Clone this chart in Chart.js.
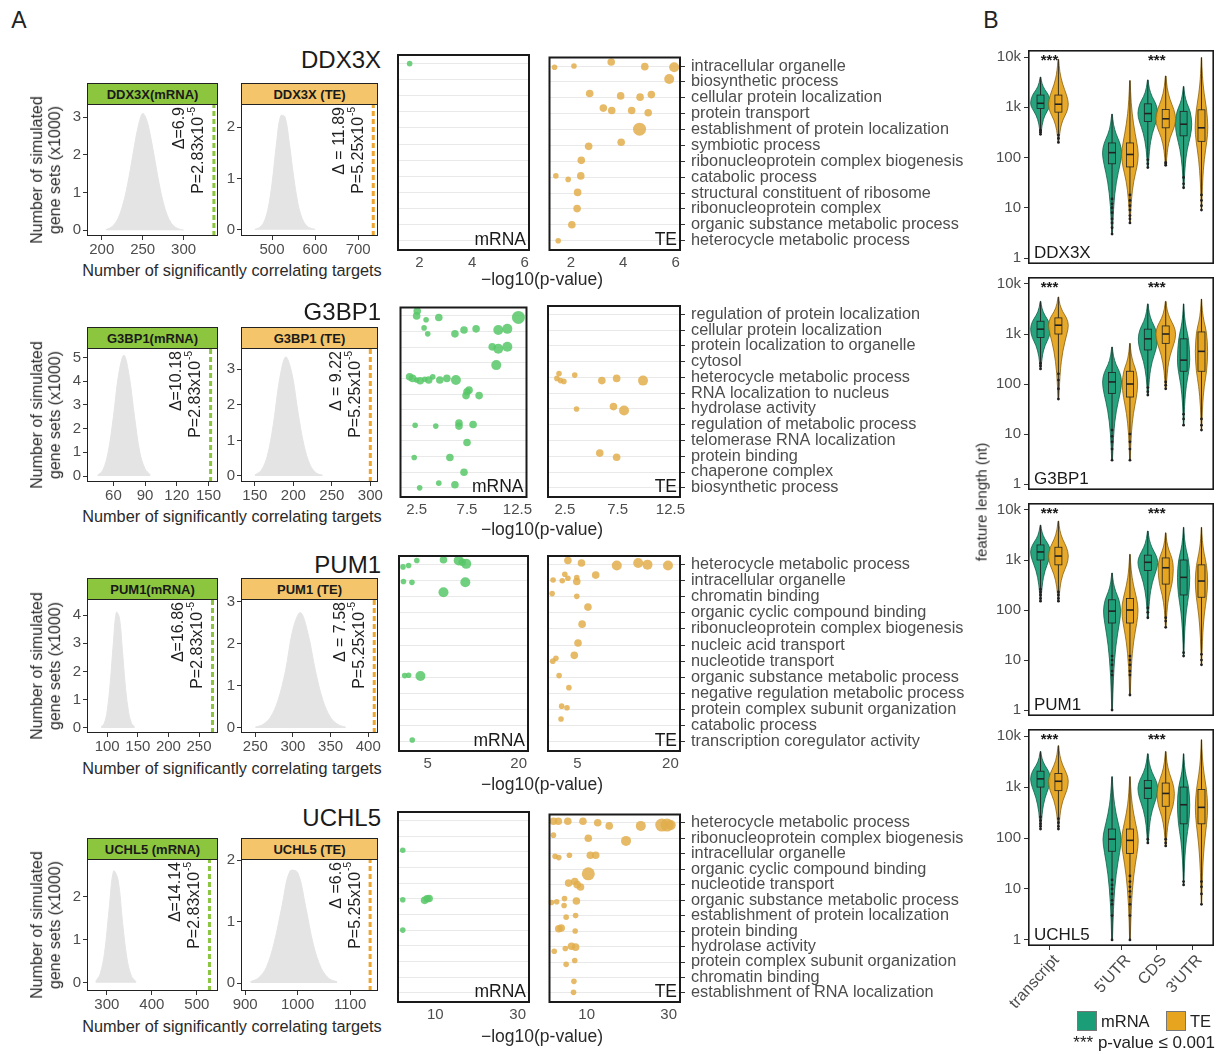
<!DOCTYPE html>
<html>
<head>
<meta charset="utf-8">
<script src="https://cdn.jsdelivr.net/npm/chart.js@4.4.0/dist/chart.umd.min.js"></script>
<style>
  body { margin: 0; background: #fff; width: 1224px; height: 1054px; position: relative; overflow: hidden;
         font-family: "Liberation Sans", Arial, sans-serif; color: #222; }
  canvas { position: absolute; }
  .t { position: absolute; white-space: nowrap; line-height: 1.12; }
  .strip { position: absolute; box-sizing: border-box; border: 1px solid #222; font-weight: bold; font-size: 13px;
           display: flex; align-items: center; justify-content: center; color: #1a1a1a; }
</style>
</head>
<body>
<script>
// ---------- data ----------
const GENES = ['DDX3X', 'G3BP1', 'PUM1', 'UCHL5'];

// simulated null distributions (x = number of targets, y = gene sets x1000)
const histBinsMrna = [
  [205, 210, 215, 220, 225, 230, 235, 240, 245, 250, 255, 260, 265, 270, 275, 280, 285, 290, 295, 300],
  [45, 50, 55, 60, 65, 70, 75, 80, 85, 90, 95],
  [90, 95, 100, 105, 110, 115, 120, 125, 130, 135, 140, 145],
  [275, 285, 295, 305, 315, 325, 335, 345, 355, 365]
];
const histSetsMrna = [
  [0.02, 0.06, 0.15, 0.32, 0.62, 1.05, 1.62, 2.25, 2.8, 3.1, 2.92, 2.45, 1.85, 1.25, 0.75, 0.4, 0.19, 0.08, 0.03, 0.01],
  [0.03, 0.25, 1.0, 2.5, 4.3, 5.1, 4.2, 2.5, 1.0, 0.3, 0.05],
  [0.03, 0.15, 0.6, 1.6, 3.0, 4.1, 3.9, 2.7, 1.4, 0.55, 0.15, 0.03],
  [0.03, 0.2, 0.7, 1.7, 2.6, 2.4, 1.4, 0.55, 0.15, 0.03]
];
const histBinsTe = [
  [460, 470, 480, 490, 500, 510, 520, 530, 540, 550, 560, 570, 580, 590, 600],
  [150, 158, 166, 174, 182, 190, 198, 206, 214, 222, 230, 238],
  [250, 260, 270, 280, 290, 300, 310, 320, 330, 340, 350, 360, 370],
  [910, 925, 940, 955, 970, 985, 1000, 1015, 1030, 1045, 1060, 1075]
];
const histSetsTe = [
  [0.01, 0.04, 0.13, 0.38, 0.9, 1.65, 2.22, 2.2, 1.7, 1.05, 0.52, 0.22, 0.08, 0.03, 0.01],
  [0.03, 0.15, 0.55, 1.45, 2.7, 3.35, 2.9, 1.8, 0.85, 0.3, 0.08, 0.02],
  [0.02, 0.08, 0.25, 0.65, 1.35, 2.35, 2.75, 2.25, 1.35, 0.65, 0.25, 0.08, 0.02],
  [0.02, 0.08, 0.25, 0.65, 1.25, 1.82, 1.8, 1.25, 0.62, 0.24, 0.07, 0.02]
];
const observedMrna = [337, 152, 272, 528];
const observedTe = [735, 300, 408, 1138];
const deltaMrna = ['\u0394=6.9', '\u0394=10.18', '\u0394=16.86', '\u0394=14.14'];
const deltaTe = ['\u0394 = 11.89', '\u0394 = 9.22', '\u0394 = 7.58', '\u0394 =6.6'];
const pMrna = 'P=2.83x10';
const pTe = 'P=5.25x10';
const pExp = '-5';

const histTicksMrna = [[200, 250, 300], [60, 90, 120, 150], [100, 150, 200, 250], [300, 400, 500]];
const histTicksTe = [[500, 600, 700], [150, 200, 250, 300], [250, 300, 350, 400], [900, 1000, 1100]];
const histYTicksMrna = [[0, 1, 2, 3], [0, 1, 2, 3, 4, 5], [0, 1, 2, 3, 4], [0, 1, 2]];
const histYTicksTe = [[0, 1, 2], [0, 1, 2, 3], [0, 1, 2, 3], [0, 1, 2]];

// GO terms (top to bottom)
const TERMS = [
  ['intracellular organelle', 'biosynthetic process', 'cellular protein localization', 'protein transport',
   'establishment of protein localization', 'symbiotic process', 'ribonucleoprotein complex biogenesis',
   'catabolic process', 'structural constituent of ribosome', 'ribonucleoprotein complex',
   'organic substance metabolic process', 'heterocycle metabolic process'],
  ['regulation of protein localization', 'cellular protein localization', 'protein localization to organelle',
   'cytosol', 'heterocycle metabolic process', 'RNA localization to nucleus', 'hydrolase activity',
   'regulation of metabolic process', 'telomerase RNA localization', 'protein binding', 'chaperone complex',
   'biosynthetic process'],
  ['heterocycle metabolic process', 'intracellular organelle', 'chromatin binding',
   'organic cyclic compound binding', 'ribonucleoprotein complex biogenesis', 'nucleic acid transport',
   'nucleotide transport', 'organic substance metabolic process', 'negative regulation metabolic process',
   'protein complex subunit organization', 'catabolic process', 'transcription coregulator activity'],
  ['heterocycle metabolic process', 'ribonucleoprotein complex biogenesis', 'intracellular organelle',
   'organic cyclic compound binding', 'nucleotide transport', 'organic substance metabolic process',
   'establishment of protein localization', 'protein binding', 'hydrolase activity',
   'protein complex subunit organization', 'chromatin binding', 'establishment of RNA localization']
];

// enrichment dots: [-log10(p), term position, size class]
const dotsMrna = [
  [[1.63, 0, 1]],
  [[2.56, -0.31, 2], [2.5, 0, 2], [3.44, 0.25, 1], [4.7, 0.1, 2], [12.6, 0.1, 4],
   [3.24, 0.77, 1], [3.6, 1.15, 1], [6.3, 1.15, 2], [7.2, 0.9, 2], [8.4, 0.83, 2], [10.6, 0.9, 3], [11.5, 0.83, 3],
   [10.0, 1.98, 2], [10.6, 2.1, 3], [11.5, 1.98, 3], [10.4, 3.15, 3],
   [1.8, 3.9, 2], [2.1, 4.0, 2], [2.5, 4.1, 1], [2.85, 4.15, 2], [3.3, 4.05, 1], [3.7, 4.1, 2], [4.1, 3.9, 1],
   [4.8, 4.1, 2], [5.5, 4.0, 2], [6.4, 4.1, 3],
   [7.5, 4.85, 2], [7.7, 4.75, 2], [7.4, 5.1, 2], [8.7, 5.1, 2],
   [2.35, 7.0, 1], [4.4, 7.05, 1], [6.7, 6.85, 2], [6.7, 7.05, 2], [8.1, 6.95, 2],
   [7.5, 8.1, 2], [2.26, 9.06, 1], [5.8, 9.06, 2], [7.2, 10.0, 2],
   [2.8, 11.0, 1], [4.7, 10.7, 1], [6.3, 10.8, 2]],
  [[0.93, 0.14, 1], [1.85, 0.05, 1], [3.2, -0.26, 1], [7.6, -0.3, 2], [10.1, -0.26, 3], [10.7, -0.15, 2], [11.35, -0.05, 3],
   [1.0, 1.05, 1], [2.4, 1.1, 1], [11.2, 1.1, 3], [7.6, 1.72, 3],
   [1.2, 6.9, 1], [1.85, 6.88, 1], [3.8, 6.92, 3], [2.45, 10.9, 1]],
  [[2.1, 1.9, 1], [2.1, 5.06, 1], [7.4, 5.1, 2], [8.0, 5.0, 2], [8.5, 4.98, 2], [2.1, 7.0, 1]]
];
const dotsTe = [
  [[1.38, 0.08, 1], [2.12, 0, 1], [3.54, -0.25, 2], [4.82, 0.04, 2], [5.94, 0.08, 3], [5.75, 0.82, 3],
   [2.72, 1.73, 2], [3.9, 1.88, 2], [4.64, 1.96, 2], [5.07, 1.8, 2],
   [3.24, 2.65, 2], [3.56, 2.8, 2], [4.32, 2.8, 2], [4.95, 2.94, 2], [4.62, 3.98, 4],
   [3.92, 4.8, 2], [2.68, 5.06, 2], [2.4, 5.94, 2],
   [1.43, 6.92, 1], [1.9, 7.14, 1], [2.38, 6.92, 2], [2.26, 7.96, 2], [2.24, 8.98, 2], [2.04, 10.0, 2], [1.52, 11.0, 1]],
  [[1.94, 3.75, 1], [1.74, 4.06, 1], [2.08, 4.2, 1], [2.4, 4.25, 1], [3.43, 3.85, 1], [6.0, 4.2, 2], [7.4, 4.06, 2], [9.9, 4.2, 3],
   [3.6, 6.0, 1], [7.1, 5.85, 2], [8.1, 6.1, 3], [5.8, 8.8, 2], [7.4, 9.06, 2]],
  [[3.47, -0.26, 2], [5.66, -0.1, 2], [11.35, 0.05, 3], [14.8, -0.1, 3], [16.3, 0, 3], [19.6, 0.05, 3],
   [1.08, 0.95, 1], [2.56, 1.0, 1], [2.97, 0.6, 1], [3.47, 0.85, 1], [4.9, 1.05, 2], [4.9, 0.8, 1], [7.95, 0.65, 2],
   [0.93, 1.8, 1], [4.9, 1.97, 1], [6.7, 2.64, 2], [5.76, 3.7, 2], [5.1, 4.87, 2], [4.5, 5.64, 2],
   [1.54, 5.82, 1], [1.03, 6.0, 1], [2.05, 6.9, 1], [3.63, 7.65, 1], [2.46, 8.8, 1], [3.32, 8.9, 1], [2.36, 9.6, 1]],
  [[1.9, -0.1, 2], [3.1, -0.1, 2], [5.4, -0.1, 2], [9.1, -0.1, 2], [12.7, 0, 2], [15.5, 0.2, 2], [23.2, 0.2, 3],
   [28.3, 0.15, 4], [29.6, 0.15, 4], [30.5, 0.15, 3],
   [1.9, 0.8, 1], [10.4, 1.0, 2], [19.6, 1.17, 3],
   [2.3, 2.17, 1], [3.2, 2.25, 1], [5.8, 2.1, 1], [10.9, 2.1, 2], [12.2, 2.1, 2], [10.4, 3.3, 4],
   [5.6, 3.9, 2], [7.1, 3.8, 2], [8.5, 4.15, 2], [7.7, 4.0, 2],
   [1.4, 5.15, 1], [2.7, 5.1, 1], [4.6, 4.9, 1], [4.5, 5.35, 1], [7.5, 5.06, 2],
   [5.0, 6.1, 1], [7.3, 6.0, 1], [3.2, 6.85, 2], [3.8, 6.8, 2], [7.2, 7.0, 1],
   [2.1, 8.3, 1], [4.8, 8.13, 1], [6.3, 7.98, 2], [7.3, 8.04, 2],
   [5.0, 9.15, 1], [7.1, 8.9, 1], [6.9, 10.25, 1], [6.8, 10.96, 1]]
];
const dotTicks = [[2, 4, 6], [2.5, 7.5, 12.5], [5, 20], [10, 30]];

// feature lengths: [min, q1, median, q3, max] for transcript, 5'UTR, CDS, 3'UTR
const FEATURES = ['transcript', "5'UTR", 'CDS', "3'UTR"];
const violinMrna = [
  [[290, 950, 1200, 1750, 4000], [3, 75, 125, 195, 730], [63, 520, 750, 1170, 3500], [25, 270, 460, 830, 2600]],
  [[200, 850, 1250, 1800, 4500], [3, 65, 110, 170, 550], [60, 480, 800, 1250, 4000], [15, 180, 300, 800, 4000]],
  [[150, 1000, 1450, 2000, 5000], [1, 55, 95, 160, 550], [70, 620, 900, 1250, 3800], [12, 200, 450, 1000, 4500]],
  [[150, 1000, 1450, 2050, 5000], [1, 55, 95, 150, 1600], [80, 600, 950, 1350, 4500], [12, 190, 450, 1000, 4500]]
];
const violinTe = [
  [[200, 800, 1150, 1750, 9000], [5, 65, 115, 195, 3400], [70, 390, 590, 900, 4200], [9, 210, 390, 890, 9800]],
  [[50, 1000, 1500, 2100, 5500], [3, 55, 100, 180, 650], [80, 650, 1000, 1450, 4500], [12, 180, 450, 1100, 5000]],
  [[150, 800, 1200, 1800, 6000], [2, 55, 100, 170, 1300], [45, 330, 700, 1100, 3500], [8, 180, 380, 800, 4500]],
  [[150, 850, 1300, 1850, 6500], [1, 50, 90, 150, 1600], [70, 420, 750, 1200, 5000], [5, 190, 400, 900, 8500]]
];
const outliersMrna = [
  [[290, 320, 350], [3, 4, 5, 6, 8, 10, 12, 15], [63, 75, 90], [25, 30, 40]],
  [[200, 230, 260], [3, 5, 7, 9, 12], [60, 70, 85], [15, 20, 25]],
  [[150, 170, 200, 230, 260], [1, 5, 6, 8, 10, 12], [70, 90, 110], [12, 14]],
  [[150, 170, 190, 220, 260], [1, 3, 5, 6, 8, 10, 12, 15], [80, 95], [12, 14]]
];
const outliersTe = [
  [[200, 240, 280], [5, 6, 7, 9, 11, 14, 18], [70, 75, 80], [9, 11, 14, 18]],
  [[50, 80, 120, 160], [3, 5, 7, 10], [80, 95, 110], [12, 15, 20]],
  [[150, 170, 200, 230], [2, 5, 6, 8, 10, 12], [45, 60, 70], [8, 10, 13]],
  [[150, 170, 200, 240], [1, 3, 5, 7, 9, 11, 14, 18], [70, 80, 95], [5, 8, 11, 14]]
];
const SIG_FEATURES = [0, 2];

// ---------- layout ----------
const FONT = '"Liberation Sans", Arial, sans-serif';
Chart.defaults.font.family = FONT;
const STRIP_TOP = [83, 327, 578, 838];
const HIST_TOP = [104, 348, 599, 859];
const HIST_BOTTOM = [236, 482, 733, 991];
const HIST_X_M = [87, 218], HIST_X_T = [241, 378];
const histRangeMrna = [[182, 342], [35, 159], [67, 281], [256, 547]];
const histRangeTe = [[428, 746], [132, 310], [231, 413], [892, 1153]];
const histYRangeMrna = [[-0.15, 3.35], [-0.25, 5.4], [-0.18, 4.57], [-0.19, 2.88]];
const histYRangeTe = [[-0.12, 2.45], [-0.17, 3.6], [-0.12, 3.07], [-0.13, 2.02]];
const DOT_TOP = [50, 300, 550, 807];
const DOT_BOTTOM = [251, 498, 752, 1003];
const DOT_X_M = [393, 534], DOT_X_T = [542, 681];
const dotRange = [[1.15, 6.2], [0.8, 13.5], [0.1, 21.7], [0.7, 33]];
const DOT_R = [0, 2.8, 3.8, 5, 6.5];
const TITLE_Y = [60, 312, 565, 818];
const HIST_XT_Y = [270, 516, 768, 1026];
const DOT_XT_Y = [280, 530, 785, 1037];
const V_TOP = [50, 277, 503, 729];
const V_BOTTOM = [268, 494, 720, 946];
const V_X = [1028, 1214];
const FEATURE_POS = [1, 3, 4, 5];

const GREEN_STRIP = '#8cc63e', ORANGE_STRIP = '#f4c56a';
const GREEN_DASH = '#8cc63e', ORANGE_DASH = '#efa62c';
const GREEN_DOT = 'rgba(88,200,104,0.85)', ORANGE_DOT = 'rgba(226,174,76,0.85)';
const GREEN_V = '#1b9e77', ORANGE_V = '#e6a41f';
const TICK_COLOR = '#4d4d4d';

// ---------- helpers ----------
function addCanvas(left, top, w, h) {
  const c = document.createElement('canvas');
  c.width = w; c.height = h;
  c.style.left = left + 'px'; c.style.top = top + 'px';
  c.style.width = w + 'px'; c.style.height = h + 'px';
  document.body.appendChild(c);
  return c.getContext('2d');
}
function fixW(w) { return s => { s.width = w; s.paddingTop = 0; s.paddingBottom = 0; s.paddingLeft = 0; s.paddingRight = 0; }; }
function fixH(h) { return s => { s.height = h; s.paddingTop = 0; s.paddingBottom = 0; s.paddingLeft = 0; s.paddingRight = 0; }; }
function setTicks(vals) { return s => { s.ticks = vals.map(v => ({ value: v })); }; }

function label(html, x, y, opt = {}) {
  const d = document.createElement('div');
  d.className = 't';
  d.innerHTML = html;
  d.style.left = x + 'px'; d.style.top = y + 'px';
  d.style.fontSize = (opt.size || 14) + 'px';
  d.style.color = opt.color || '#222';
  if (opt.weight) d.style.fontWeight = opt.weight;
  if (opt.center) d.style.textAlign = 'center';
  const tx = opt.align === 'right' ? '-100%' : opt.align === 'left' ? '0' : '-50%';
  d.style.transform = `translate(${tx},-50%)` + (opt.rotate ? ` rotate(${opt.rotate}deg)` : '');
  document.body.appendChild(d);
  return d;
}
function strip(text, x0, x1, top, bg) {
  const d = document.createElement('div');
  d.className = 'strip';
  d.textContent = text;
  d.style.left = x0 + 'px'; d.style.top = top + 'px';
  d.style.width = (x1 - x0) + 'px'; d.style.height = '22px';
  d.style.background = bg;
  document.body.appendChild(d);
}

function framePlugin(color, width) {
  return {
    id: 'frame',
    afterDatasetsDraw(chart) {
      const a = chart.chartArea, c = chart.ctx;
      c.save();
      c.strokeStyle = color; c.lineWidth = width;
      const h = width / 2;
      c.strokeRect(a.left + h, a.top + h, a.right - a.left - width, a.bottom - a.top - width);
      c.restore();
    }
  };
}
function cornerPlugin(text, align, size) {
  return {
    id: 'corner',
    afterDatasetsDraw(chart) {
      const a = chart.chartArea, c = chart.ctx;
      c.save();
      c.font = `${size}px ${FONT}`;
      c.fillStyle = '#1a1a1a';
      c.textBaseline = 'bottom';
      c.textAlign = align;
      c.fillText(text, align === 'right' ? a.right - 4 : a.left + 6, a.bottom - 2);
      c.restore();
    }
  };
}
function annotPlugin(obs, lines) {
  return {
    id: 'annot',
    afterDatasetsDraw(chart) {
      const a = chart.chartArea, c = chart.ctx;
      const xr = chart.scales.x.getPixelForValue(obs);
      const offs = [-34, -15];
      lines.forEach((ln, i) => {
        c.save();
        c.translate(xr + offs[i], a.top + 3);
        c.rotate(-Math.PI / 2);
        c.fillStyle = '#1f1f1f';
        c.textBaseline = 'middle';
        c.textAlign = 'left';
        c.font = `16px ${FONT}`;
        const w1 = c.measureText(ln[0]).width;
        let w2 = 0;
        if (ln[1]) { c.font = `10px ${FONT}`; w2 = c.measureText(ln[1]).width + 1; }
        c.font = `16px ${FONT}`;
        c.fillText(ln[0], -(w1 + w2), 0);
        if (ln[1]) { c.font = `10px ${FONT}`; c.fillText(ln[1], -w2 + 1, -6.5); }
        c.restore();
      });
    }
  };
}

// ---------- histogram panels ----------
function histChart(r, isM) {
  const xr = isM ? HIST_X_M : HIST_X_T;
  const ml = 34, mb = 24, mr = 6, mt = 10;
  const top = HIST_TOP[r], h = HIST_BOTTOM[r] - top;
  const ctx = addCanvas(xr[0] - ml, top - mt, xr[1] - xr[0] + ml + mr, h + mb + mt);
  const bins = isM ? histBinsMrna[r] : histBinsTe[r];
  const sets = isM ? histSetsMrna[r] : histSetsTe[r];
  const obs = isM ? observedMrna[r] : observedTe[r];
  const yr = isM ? histYRangeMrna[r] : histYRangeTe[r];
  const xrng = isM ? histRangeMrna[r] : histRangeTe[r];
  const lines = isM ? [[deltaMrna[r]], [pMrna, pExp]] : [[deltaTe[r]], [pTe, pExp]];
  new Chart(ctx, {
    type: 'line',
    data: {
      datasets: [
        { data: bins.map((b, i) => ({ x: b, y: sets[i] })), fill: 'origin', backgroundColor: '#e4e4e4',
          borderColor: '#e4e4e4', borderWidth: 1, pointRadius: 0, tension: 0.35 },
        { data: [{ x: obs, y: yr[0] }, { x: obs, y: yr[1] }], borderColor: isM ? GREEN_DASH : ORANGE_DASH,
          borderWidth: 3, borderDash: [5, 3], pointRadius: 0, fill: false }
      ]
    },
    options: {
      responsive: false, animation: false, events: [],
      layout: { padding: { top: mt, right: mr, left: 0, bottom: 0 } },
      plugins: { legend: { display: false }, tooltip: { enabled: false } },
      scales: {
        x: {
          type: 'linear', min: xrng[0], max: xrng[1],
          afterBuildTicks: setTicks(isM ? histTicksMrna[r] : histTicksTe[r]), afterFit: fixH(mb),
          grid: { drawOnChartArea: false, tickLength: 4, tickColor: '#333' },
          border: { display: false },
          ticks: { color: TICK_COLOR, font: { size: 15 }, padding: 1, maxRotation: 0, autoSkip: false,
                   callback: v => String(v) }
        },
        y: {
          min: yr[0], max: yr[1],
          afterBuildTicks: setTicks(isM ? histYTicksMrna[r] : histYTicksTe[r]), afterFit: fixW(ml),
          grid: { drawOnChartArea: false, tickLength: 4, tickColor: '#333' },
          border: { display: false },
          ticks: { color: TICK_COLOR, font: { size: 15 }, padding: 2, autoSkip: false }
        }
      }
    },
    plugins: [framePlugin('#222', 1), annotPlugin(obs, lines)]
  });
}

// ---------- GO enrichment dot panels ----------
function dotChart(r, isM) {
  const xr = isM ? DOT_X_M : DOT_X_T;
  const mb = 24, mr = isM ? 0 : 310;
  const top = DOT_TOP[r], h = DOT_BOTTOM[r] - top;
  const ctx = addCanvas(xr[0], top, xr[1] - xr[0] + mr, h + mb);
  const pts = isM ? dotsMrna[r] : dotsTe[r];
  const terms = TERMS[r];
  new Chart(ctx, {
    type: 'bubble',
    data: {
      datasets: [{
        data: pts.map(p => ({ x: p[0], y: p[1], r: DOT_R[p[2]] })),
        backgroundColor: isM ? GREEN_DOT : ORANGE_DOT, borderWidth: 0
      }]
    },
    options: {
      responsive: false, animation: false, events: [],
      layout: { padding: 0 },
      plugins: { legend: { display: false }, tooltip: { enabled: false } },
      scales: {
        x: {
          type: 'linear', min: dotRange[r][0], max: dotRange[r][1],
          afterBuildTicks: setTicks(dotTicks[r]), afterFit: fixH(mb),
          grid: { display: false, drawTicks: false }, border: { display: false },
          ticks: { color: TICK_COLOR, font: { size: 15 }, padding: 3, maxRotation: 0, autoSkip: false,
                   callback: v => String(v) }
        },
        y: {
          type: 'linear', reverse: true, min: -0.6, max: 11.65, position: isM ? 'left' : 'right',
          afterBuildTicks: setTicks(terms.map((_, i) => i)), afterFit: fixW(isM ? 0 : mr),
          grid: { color: '#e9e9e9', lineWidth: 1, drawTicks: !isM, tickLength: 4, tickColor: '#333' },
          border: { display: false },
          ticks: { display: !isM, color: TICK_COLOR, font: { size: 16.3 }, padding: 6, autoSkip: false,
                   callback: v => terms[v] }
        }
      }
    },
    plugins: [framePlugin('#1a1a1a', 2), cornerPlugin(isM ? 'mRNA' : 'TE', 'right', 17.5)]
  });
}

// ---------- violin panels ----------
function violinPlugin(g) {
  return {
    id: 'violins',
    beforeDatasetsDraw(chart) {
      const c = chart.ctx, xs = chart.scales.x, ys = chart.scales.y;
      const unit = xs.getPixelForValue(1) - xs.getPixelForValue(0);
      const groups = [[violinMrna[g], -0.25, GREEN_V, '#0f5e47'], [violinTe[g], 0.25, ORANGE_V, '#8a5f0c']];
      groups.forEach(([stats, off, fillC, lineC]) => {
        stats.forEach((st, f) => {
          const cx = xs.getPixelForValue(FEATURE_POS[f] + off);
          const [mn, q1, md, q3, mx] = st.map(v => Math.log10(v));
          const W = 0.29 * unit * Math.max(0.62, Math.min(1, 0.4 / (q3 - q1)));
          const prof = [[mn, 0.04], [mn + 0.4 * (q1 - mn), 0.14], [mn + 0.75 * (q1 - mn), 0.42], [q1, 0.82], [md, 1],
                        [q3, 0.8], [q3 + 0.3 * (mx - q3), 0.4], [q3 + 0.65 * (mx - q3), 0.12], [mx, 0.03]];
          const pts = prof.map(([lv, w]) => [ys.getPixelForValue(Math.pow(10, lv)), w * W]);
          c.save();
          c.beginPath();
          const side = (sgn, arr) => {
            arr.forEach((p, i) => {
              const X = cx + sgn * p[1], Y = p[0];
              if (i === 0) { sgn > 0 ? c.moveTo(X, Y) : c.lineTo(X, Y); return; }
              if (i === arr.length - 1) { c.lineTo(X, Y); return; }
              const nx = cx + sgn * arr[i + 1][1], ny = arr[i + 1][0];
              c.quadraticCurveTo(X, Y, (X + nx) / 2, (Y + ny) / 2);
            });
          };
          side(1, pts);
          side(-1, pts.slice().reverse());
          c.closePath();
          c.fillStyle = fillC; c.globalAlpha = 0.95; c.fill();
          c.globalAlpha = 1; c.strokeStyle = lineC; c.lineWidth = 0.8; c.stroke();
          // whisker line
          c.beginPath();
          c.moveTo(cx, ys.getPixelForValue(st[0])); c.lineTo(cx, ys.getPixelForValue(st[4]));
          c.strokeStyle = '#222'; c.lineWidth = 0.9; c.stroke();
          // box
          const yq1 = ys.getPixelForValue(st[1]), yq3 = ys.getPixelForValue(st[3]), ym = ys.getPixelForValue(st[2]);
          c.fillStyle = fillC;
          c.fillRect(cx - 3.5, yq3, 7, yq1 - yq3);
          c.strokeStyle = '#222'; c.lineWidth = 0.8;
          c.strokeRect(cx - 3.5, yq3, 7, yq1 - yq3);
          c.beginPath(); c.moveTo(cx - 3.5, ym); c.lineTo(cx + 3.5, ym); c.lineWidth = 1.6; c.stroke();
          c.restore();
        });
      });
    },
    afterDatasetsDraw(chart) {
      const c = chart.ctx, xs = chart.scales.x, a = chart.chartArea;
      c.save();
      c.fillStyle = '#1a1a1a';
      c.font = `bold 15px ${FONT}`;
      c.textAlign = 'center'; c.textBaseline = 'middle';
      SIG_FEATURES.forEach(f => c.fillText('***', xs.getPixelForValue(FEATURE_POS[f]), a.top + 11));
      c.restore();
    }
  };
}

function violinChart(g) {
  const last = g === GENES.length - 1;
  const ml = 46, mb = last ? 90 : 0, mt = 8;
  const top = V_TOP[g], h = V_BOTTOM[g] - top;
  const ctx = addCanvas(V_X[0] - ml, top - mt, V_X[1] - V_X[0] + ml + 6, h + mb + mt);
  const outPts = [];
  [[outliersMrna[g], -0.25], [outliersTe[g], 0.25]].forEach(([arr, off]) => {
    arr.forEach((vals, f) => vals.forEach(v => outPts.push({ x: FEATURE_POS[f] + off, y: v })));
  });
  new Chart(ctx, {
    type: 'scatter',
    data: { datasets: [{ data: outPts, pointRadius: 1.4, backgroundColor: '#222', borderWidth: 0 }] },
    options: {
      responsive: false, animation: false, events: [],
      layout: { padding: { top: mt, right: 6, left: 0, bottom: 0 } },
      plugins: { legend: { display: false }, tooltip: { enabled: false } },
      scales: {
        x: {
          type: 'linear', min: 0.4, max: 5.6, display: last,
          afterBuildTicks: setTicks(FEATURE_POS), afterFit: fixH(mb),
          grid: { drawOnChartArea: false, tickLength: 4, tickColor: '#333' }, border: { display: false },
          ticks: { color: TICK_COLOR, font: { size: 16 }, minRotation: 48, maxRotation: 48, autoSkip: false, padding: 1,
                   labelOffset: 7, callback: v => FEATURES[FEATURE_POS.indexOf(v)] }
        },
        y: {
          type: 'logarithmic', min: 0.76, max: 13800,
          afterBuildTicks: setTicks([1, 10, 100, 1000, 10000]), afterFit: fixW(ml),
          grid: { drawOnChartArea: false, tickLength: 4, tickColor: '#333' }, border: { display: false },
          ticks: { color: TICK_COLOR, font: { size: 15 }, padding: 3, autoSkip: false,
                   callback: v => ({ 1: '1', 10: '10', 100: '100', 1000: '1k', 10000: '10k' })[v] }
        }
      }
    },
    plugins: [violinPlugin(g), framePlugin('#1a1a1a', 1.6), cornerPlugin(GENES[g], 'left', 17)]
  });
}

// ---------- build ----------
label('A', 19, 21, { size: 23 });
label('B', 991, 21, { size: 23 });

GENES.forEach((gene, r) => {
  label(gene, 381, TITLE_Y[r], { size: 24, align: 'right', color: '#1a1a1a' });
  strip(gene + (r === 3 ? ' (mRNA)' : '(mRNA)'), HIST_X_M[0], HIST_X_M[1], STRIP_TOP[r], GREEN_STRIP);
  strip(gene + ' (TE)', HIST_X_T[0], HIST_X_T[1], STRIP_TOP[r], ORANGE_STRIP);
  histChart(r, true);
  histChart(r, false);
  label('Number of simulated<br>gene sets (x1000)', 46, (HIST_TOP[r] + HIST_BOTTOM[r]) / 2,
        { size: 16, rotate: -90, center: true, color: '#2a2a2a' });
  label('Number of significantly correlating targets', 232, HIST_XT_Y[r], { size: 16.3, color: '#2a2a2a' });
  dotChart(r, true);
  dotChart(r, false);
  label('\u2212log10(p-value)', 542, DOT_XT_Y[r], { size: 17.5, color: '#2a2a2a' });
  violinChart(r);
});

label('feature length (nt)', 982, 502, { size: 15, rotate: -90, color: '#2a2a2a' });

// legend
const sw = (x, color) => {
  const d = document.createElement('div');
  d.style.cssText = `position:absolute;left:${x}px;top:1011px;width:20px;height:20px;background:${color};box-sizing:border-box;border:1px solid #777`;
  document.body.appendChild(d);
};
sw(1077, GREEN_V);
label('mRNA', 1101, 1021, { size: 16.5, align: 'left' });
sw(1166, ORANGE_V);
label('TE', 1190, 1021, { size: 16.5, align: 'left' });
label('*** p-value \u2264 0.001', 1215, 1043, { size: 17, align: 'right' });
</script>
</body>
</html>
